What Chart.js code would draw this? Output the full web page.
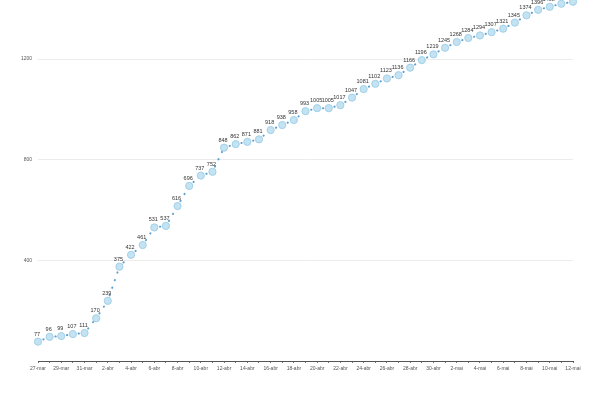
<!DOCTYPE html>
<html>
<head>
<meta charset="utf-8">
<script src="https://cdn.jsdelivr.net/npm/chart.js@4/dist/chart.umd.min.js"></script>
<style>
  html, body { margin: 0; padding: 0; background: #fff; }
  #wrap { width: 600px; height: 400px; }
</style>
</head>
<body>
<div id="wrap"><canvas id="myChart"></canvas></div>
<script>
// dias (27-mar a 12-mai)
const dias = [
  "27-mar", "28-mar", "29-mar", "30-mar", "31-mar",
  "1-abr", "2-abr", "3-abr", "4-abr", "5-abr", "6-abr", "7-abr", "8-abr", "9-abr", "10-abr",
  "11-abr", "12-abr", "13-abr", "14-abr", "15-abr", "16-abr", "17-abr", "18-abr", "19-abr", "20-abr",
  "21-abr", "22-abr", "23-abr", "24-abr", "25-abr", "26-abr", "27-abr", "28-abr", "29-abr", "30-abr",
  "1-mai", "2-mai", "3-mai", "4-mai", "5-mai", "6-mai", "7-mai", "8-mai", "9-mai", "10-mai",
  "11-mai", "12-mai"
];

// casos acumulados
const casos = [
  77, 96, 99, 107, 111,
  170, 239, 375, 422, 461, 531, 537, 616, 696, 737,
  752, 848, 862, 871, 881, 918, 938, 958, 993, 1005,
  1005, 1017, 1047, 1081, 1102, 1123, 1136, 1166, 1196, 1219,
  1245, 1268, 1284, 1294, 1307, 1321, 1345, 1374, 1396, 1408,
  1420, 1428
];

const yTicks = [400, 800, 1200];

(function () {
    let ctx = document.getElementById("myChart").getContext("2d");

    // etiquetas com o valor por cima de cada ponto
    let valueLabels = {
        id: "valueLabels",
        afterDatasetsDraw(chart) {
            let c = chart.ctx;
            let meta = chart.getDatasetMeta(0);
            c.save();
            c.font = "5.5px 'Liberation Sans', Arial, sans-serif";
            c.fillStyle = "#333";
            c.textAlign = "center";
            c.textBaseline = "alphabetic";
            meta.data.forEach(function (pt, i) {
                c.fillText(String(casos[i]), pt.x - 1, pt.y - 6);
            });
            c.restore();
        }
    };

    let datas = {
        labels: dias,
        datasets: [{
            data: casos,
            borderColor: "#5f9fcc",
            borderWidth: 2,
            borderDash: [0.3, 7.7],
            borderDashOffset: 2.2,
            borderCapStyle: "round",
            segment: {
                borderDashOffset: function (s) { return s.p0DataIndex % 2 ? 2.2 : 2.2001; }
            },
            pointRadius: 3.6,
            pointBackgroundColor: "#c3e2f2",
            pointBorderColor: "#a2d0e8",
            pointBorderWidth: 1,
            tension: 0,
            clip: false
        }]
    };

    let option = {
        responsive: true,
        maintainAspectRatio: false,
        animation: false,
        layout: { autoPadding: false, padding: { left: 0, right: 27, top: 0, bottom: 0 } },
        plugins: {
            legend: { display: false },
            tooltip: { enabled: false }
        },
        scales: {
            x: {
                offset: false,
                afterFit: function (s) { s.height = 39; },
                border: { display: true, color: "#555", width: 1 },
                grid: {
                    drawOnChartArea: false,
                    drawTicks: true,
                    tickLength: 2,
                    color: "#777"
                },
                ticks: {
                    autoSkip: false,
                    maxRotation: 0,
                    padding: 3,
                    color: "#555",
                    font: { size: 5, family: "'Liberation Sans', Arial, sans-serif" },
                    callback: function (v, i) { return i % 2 === 0 ? dias[i] : ""; }
                }
            },
            y: {
                min: 0,
                max: 1435,
                afterFit: function (s) {
                    s.width = 38;
                    s.paddingTop = 0;
                    s.paddingBottom = 0;
                },
                border: { display: false },
                grid: {
                    drawTicks: false,
                    color: function (c) {
                        return yTicks.indexOf(c.tick.value) >= 0 ? "#ececec" : "rgba(0,0,0,0)";
                    }
                },
                ticks: {
                    stepSize: 400,
                    padding: 6,
                    color: "#555",
                    font: { size: 5, family: "'Liberation Sans', Arial, sans-serif" },
                    callback: function (v) { return yTicks.indexOf(v) >= 0 ? v : ""; }
                }
            }
        }
    };

    let myChart = new Chart(ctx, {
        type: "line",
        data: datas,
        options: option,
        plugins: [valueLabels]
    });
})();
</script>
</body>
</html>
